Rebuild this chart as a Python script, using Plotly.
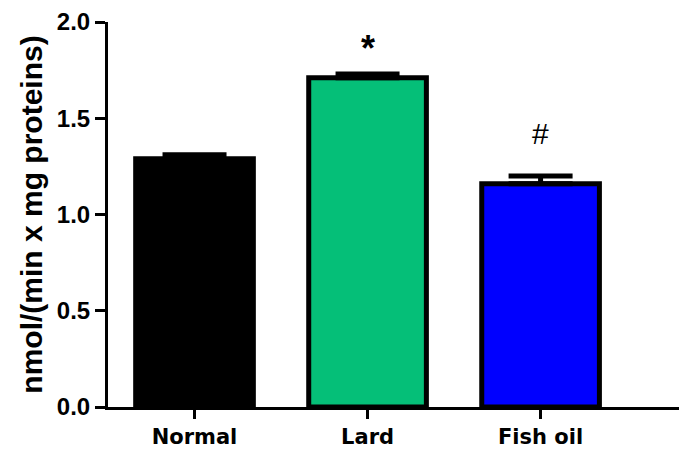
import plotly.graph_objects as go

# Enzyme activity per diet group
groups = ["Normal", "Lard", "Fish oil"]
activity = [1.29, 1.71, 1.16]
sem = [0.02, 0.02, 0.04]
bar_colors = ["#000000", "#05BF78", "#0000FF"]
marks = ["", "*", "#"]
mark_heights = [None, 1.86, 1.42]
y_ticks = [0.0, 0.5, 1.0, 1.5, 2.0]

fig = go.Figure()
fig.add_trace(go.Bar(
    x=groups,
    y=activity,
    marker=dict(color=bar_colors, line=dict(color="black", width=5)),
    width=0.68,
    error_y=dict(type="data", array=sem, arrayminus=[0] * len(sem),
                 symmetric=False, color="black", thickness=5, width=32),
))

for g, m, h in zip(groups, marks, mark_heights):
    if m:
        fig.add_annotation(
            x=g, y=h, text=f"<b>{m}</b>" if m == "*" else m, showarrow=False,
            font=dict(family="Liberation Sans, Arial", size=36 if m == "*" else 30,
                      color="black"),
            yanchor="middle",
        )

fig.update_layout(
    width=679, height=459,
    margin=dict(l=108, r=0, t=22, b=52),
    plot_bgcolor="white", paper_bgcolor="white",
    showlegend=False,
)
fig.update_xaxes(
    range=[-0.5, 2.8],
    showline=True, linecolor="black", linewidth=3,
    ticks="outside", ticklen=9, tickwidth=3, tickcolor="black",
    tickfont=dict(family="DejaVu Sans", size=21, color="black", weight="bold"),
    showgrid=False, zeroline=False,
)
fig.update_yaxes(
    range=[0, 2.0],
    tickvals=y_ticks, ticktext=[f"{v:.1f}" for v in y_ticks],
    showline=True, linecolor="black", linewidth=3,
    ticks="outside", ticklen=10, tickwidth=3, tickcolor="black",
    tickfont=dict(family="Liberation Sans, Arial", size=24, color="black", weight="bold"),
    title=dict(text="nmol/(min x mg proteins)", standoff=6,
               font=dict(family="Liberation Sans, Arial", size=30, color="black",
                         weight="bold")),
    showgrid=False, zeroline=False,
)

fig.write_html("out.html")
